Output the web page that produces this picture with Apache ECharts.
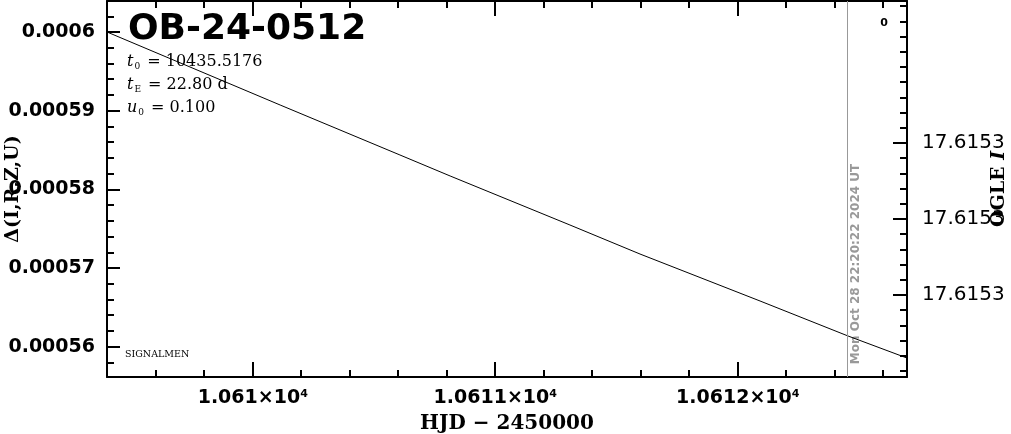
<!DOCTYPE html>
<html><head><meta charset="utf-8">
<script src="https://cdn.jsdelivr.net/npm/echarts@6/dist/echarts.min.js"></script>
<style>html,body{margin:0;padding:0;background:#fff}#c{width:1011px;height:434px}</style>
</head><body><div id="c"></div>
<script>
// ---- data ----
const titleText = "OB-24-0512";
const paramLines = [["t", "0", " = 10435.5176"], ["t", "E", " = 22.80 d"], ["u", "0", " = 0.100"]];
const hjd   = [10609.399, 10610.113, 10610.607, 10610.814, 10611.308, 10611.597, 10612.092, 10612.455, 10612.698];
const delta = [0.00060000, 0.00059072, 0.00058437, 0.00058170, 0.00057547, 0.00057178, 0.00056581, 0.00056136, 0.00055856];
const xRange = [10609.399, 10612.698];
const yRange = [0.00055615, 0.00060394];
const xMajorTicks = [10610, 10611, 10612];
const xMajorMantissa = ["1.061", "1.0611", "1.0612"];
const xExponent = "4";
const xMinorTicks = [10609.6, 10609.8, 10610.2, 10610.4, 10610.6, 10610.8, 10611.2, 10611.4, 10611.6, 10611.8, 10612.2, 10612.4, 10612.6];
const yMajorTicks = [0.00056, 0.00057, 0.00058, 0.00059, 0.0006];
const yMajorLabels = ["0.00056", "0.00057", "0.00058", "0.00059", "0.0006"];
const yMinorTicks = [0.000558, 0.000562, 0.000564, 0.000566, 0.000568, 0.000572, 0.000574, 0.000576, 0.000578, 0.000582, 0.000584, 0.000586, 0.000588, 0.000592, 0.000594, 0.000596, 0.000598, 0.000602];
const rightRange = [0.658, 25.395];
const rightMajorTicks = [10, 15, 20];
const rightMajorLabels = ["17.6153", "17.6153", "17.6153"];
const rightMinorTicks = [1, 2, 3, 4, 5, 6, 7, 8, 9, 11, 12, 13, 14, 16, 17, 18, 19, 21, 22, 23, 24, 25];
const markerHJD = 10612.455;
const markerLabel = "Mon Oct 28 22:20:22 2024 UT";
const xName = "HJD \u2212 2450000";
const yName = "\u0394(I,R,Z,U)";
const rightName = ["OGLE ", "I"];
const cornerLabel = "0";
const footLabel = "SIGNALMEN";

// ---- chart ----
const chart = echarts.init(document.getElementById('c'), null, {renderer: 'canvas'});
const SANS = 'DejaVu Sans';
const SERIF = 'DejaVu Serif';
const lineCol = '#000';

function xAxisDef(pos, ticks, len, showLine, labels) {
  return {
    type: 'value', position: pos, min: xRange[0], max: xRange[1],
    axisLine: {show: showLine, onZero: false, lineStyle: {color: lineCol, width: 2}},
    axisTick: {show: true, inside: true, length: len, customValues: ticks, lineStyle: {color: lineCol, width: 2}},
    axisLabel: labels ? {
      show: true, customValues: ticks, margin: 12,
      formatter: v => { const i = xMajorTicks.indexOf(v); return '{m|' + xMajorMantissa[i] + '\u00d710}{e|' + xExponent + '}'; },
      rich: {m: {fontFamily: SANS, fontWeight: 'bold', fontSize: 19, color: '#000'},
             e: {fontFamily: SANS, fontWeight: 'bold', fontSize: 11, color: '#000', verticalAlign: 'top', lineHeight: 10}}
    } : {show: false},
    splitLine: {show: false}
  };
}
function yAxisDef(pos, range, ticks, len, showLine, extra) {
  return Object.assign({
    type: 'value', position: pos, min: range[0], max: range[1],
    axisLine: {show: showLine, onZero: false, lineStyle: {color: lineCol, width: 2}},
    axisTick: {show: true, inside: true, length: len, customValues: ticks, lineStyle: {color: lineCol, width: 2}},
    axisLabel: {show: false},
    splitLine: {show: false}
  }, extra || {});
}

const xAxes = [
  Object.assign(xAxisDef('bottom', xMajorTicks, 15, true, true), {
    name: xName, nameLocation: 'middle', nameGap: 37, nameMoveOverlap: false,
    nameTextStyle: {fontFamily: SERIF, fontWeight: 'bold', fontSize: 20, color: '#000'}
  }),
  xAxisDef('bottom', xMinorTicks, 7, false, false),
  xAxisDef('top', xMajorTicks, 15, true, false),
  xAxisDef('top', xMinorTicks, 7, false, false)
];
const yAxes = [
  yAxisDef('left', yRange, yMajorTicks, 13, true, {
    axisLabel: {show: true, customValues: yMajorTicks, margin: 12,
      formatter: v => { let i = yMajorTicks.findIndex(t => Math.abs(t - v) < 1e-9); return yMajorLabels[i]; },
      fontFamily: SANS, fontWeight: 'bold', fontSize: 19, color: '#000'},
    name: yName, nameLocation: 'middle', nameGap: 84, nameRotate: 90, nameMoveOverlap: false,
    nameTextStyle: {fontFamily: SERIF, fontWeight: 'bold', fontSize: 19, color: '#000'}
  }),
  yAxisDef('left', yRange, yMinorTicks, 7, false),
  yAxisDef('right', rightRange, rightMajorTicks, 14, true, {
    inverse: true,
    axisLabel: {show: true, customValues: rightMajorTicks, margin: 15,
      formatter: v => rightMajorLabels[rightMajorTicks.indexOf(v)],
      fontFamily: SANS, fontSize: 20, color: '#000'},
    name: '{n|' + rightName[0] + '}{i|' + rightName[1] + '}', nameLocation: 'middle', nameGap: 83, nameRotate: 90, nameMoveOverlap: false,
    nameTextStyle: {rich: {
      n: {fontFamily: SERIF, fontWeight: 'bold', fontSize: 19, color: '#000'},
      i: {fontFamily: SERIF, fontWeight: 'bold', fontStyle: 'italic', fontSize: 19, color: '#000'}}}
  }),
  yAxisDef('right', rightRange, rightMinorTicks, 7, false, {inverse: true})
];

chart.setOption({
  animation: false,
  backgroundColor: '#fff',
  grid: {left: 107, right: 104, top: 1, bottom: 57, containLabel: false, outerBoundsMode: 'none'},
  xAxis: xAxes,
  yAxis: yAxes,
  series: [{
    type: 'line', xAxisIndex: 0, yAxisIndex: 0,
    data: hjd.map((x, i) => [x, delta[i]]),
    showSymbol: false, symbol: 'none', smooth: false,
    lineStyle: {color: '#000', width: 1},
    markLine: {
      silent: true, symbol: 'none', label: {show: false},
      lineStyle: {color: '#999', width: 1, type: 'solid'},
      data: [{xAxis: markerHJD}]
    }
  }]
});

const mx = chart.convertToPixel({xAxisIndex: 0}, markerHJD);
const richParam = {
  i: {fontFamily: SERIF, fontStyle: 'italic', fontSize: 16, color: '#000', lineHeight: 19},
  s: {fontFamily: SERIF, fontSize: 9, color: '#000', verticalAlign: 'bottom', lineHeight: 6, padding: [0, 2, 0, 1]},
  n: {fontFamily: SERIF, fontSize: 16, color: '#000', lineHeight: 19}
};
const paramY = [62, 85, 108];
const graphics = [
  {type: 'text', left: 128, top: 12, style: {text: titleText, fontFamily: SANS, fontWeight: 'bold', fontSize: 36, fill: '#000'}},
  {type: 'text', x: 884, y: 23, style: {text: cornerLabel, fontFamily: SANS, fontWeight: 'bold', fontSize: 11, fill: '#000', align: 'center', verticalAlign: 'middle'}},
  {type: 'text', x: 125, y: 355, style: {text: footLabel, fontFamily: SERIF, fontSize: 9.5, fill: '#000', align: 'left', verticalAlign: 'middle'}},
  {type: 'text', x: mx + 8, y: 264, rotation: Math.PI / 2, style: {text: markerLabel, fontFamily: SANS, fontWeight: 'bold', fontSize: 12, fill: '#999', align: 'center', verticalAlign: 'middle'}}
];
paramLines.forEach((p, k) => {
  graphics.push({type: 'text', x: 127, y: paramY[k], style: {
    text: '{i|' + p[0] + '}{s|' + p[1] + '}{n|' + p[2] + '}', rich: richParam, align: 'left', verticalAlign: 'middle'}});
});
chart.setOption({graphic: graphics});
</script>
</body></html>
